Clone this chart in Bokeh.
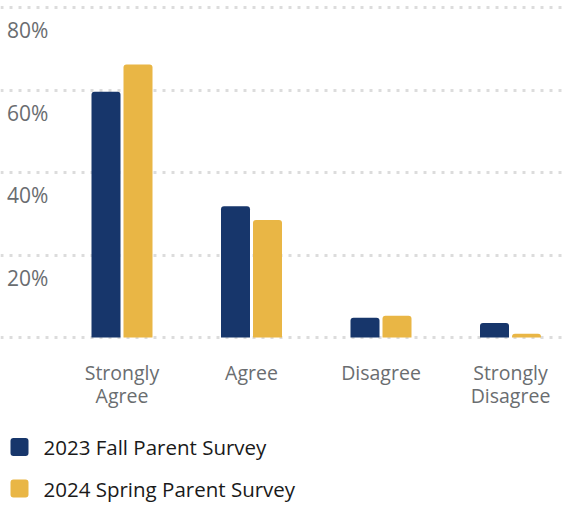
from bokeh.plotting import figure
from bokeh.models import Range1d, FixedTicker
from bokeh.core.properties import value
from bokeh.embed import file_html
from bokeh.resources import INLINE

categories = ["Strongly Agree", "Agree", "Disagree", "Strongly Disagree"]
series_names = ["2023 Fall Parent Survey", "2024 Spring Parent Survey"]
fall_2023 = [59.6, 31.8, 4.8, 3.5]
spring_2024 = [66.2, 28.5, 5.3, 0.9]
y_ticks = [0, 20, 40, 60, 80]
y_tick_labels = ["", "20%", "40%", "60%", "80%"]

colors = ["#17366b", "#e9b645"]
FONT = "Open Sans"

W, H = 567, 505
ORIG = 0
PX_PER_X = 129.5
X0 = -(121.5 - ORIG) / PX_PER_X
PX_PER_Y = 4.125
Y1 = (337 - ORIG) / PX_PER_Y
X1 = X0 + W / PX_PER_X
Y0 = Y1 - H / PX_PER_Y


def sx(px):
    return X0 + (px - ORIG) / PX_PER_X


def sy(py):
    return Y1 - (py - ORIG) / PX_PER_Y


p = figure(width=W, height=H, output_backend="svg", toolbar_location=None,
           x_range=Range1d(X0, X1), y_range=Range1d(Y0, Y1),
           min_border=0, outline_line_color=None, background_fill_color="white",
           border_fill_color="white")
p.axis.visible = False
p.xgrid.visible = False
p.ygrid.ticker = FixedTicker(ticks=y_ticks)
p.ygrid.grid_line_color = "#dcdcdc"
p.ygrid.grid_line_width = 3
p.ygrid.grid_line_dash = "3 6"

xs = list(range(len(categories)))
bw = 29 / PX_PER_X
off = 16 / PX_PER_X
for vals, col, d in [(fall_2023, colors[0], -off), (spring_2024, colors[1], off)]:
    p.vbar(x=[x + d for x in xs], top=vals, bottom=0, width=bw, color=col,
           line_color=None, border_radius=(3, 3, 0, 0))

# y labels below grid lines
lab_dy = 22.5 / PX_PER_Y
ly = [t - lab_dy for t, l in zip(y_ticks, y_tick_labels) if l]
lt = [l for l in y_tick_labels if l]
p.text(x=[sx(6.5)] * len(lt), y=ly, text=lt, text_font=value(FONT),
       text_font_size="21px", text_color="#6a6d70", text_baseline="middle",
       text_align="left")

# category labels
l1x, l1y, l1t, l2x, l2y, l2t = [], [], [], [], [], []
for i, c in enumerate(categories):
    w = c.split(" ")
    l1x.append(i); l1y.append(sy(372)); l1t.append(w[0])
    if len(w) > 1:
        l2x.append(i); l2y.append(sy(395)); l2t.append(" ".join(w[1:]))
for xx, yy, tt in [(l1x, l1y, l1t), (l2x, l2y, l2t)]:
    p.text(x=xx, y=yy, text=tt, text_font=value(FONT), text_font_size="19.5px",
           text_color="#6a6d70", text_baseline="middle", text_align="center")

# legend
leg_y = [446.5, 488]
p.rect(x=[sx(19)] * 2, y=[sy(v) for v in leg_y], width=18, height=18,
       width_units="screen", height_units="screen", color=colors,
       line_color=None, border_radius=3)
p.text(x=[sx(43)] * 2, y=[sy(v) for v in leg_y], text=series_names,
       text_font=value(FONT), text_font_size="20.5px", text_color="#1a1a1a",
       text_baseline="middle", text_align="left")

open("out.html", "w").write(file_html(p, INLINE))
